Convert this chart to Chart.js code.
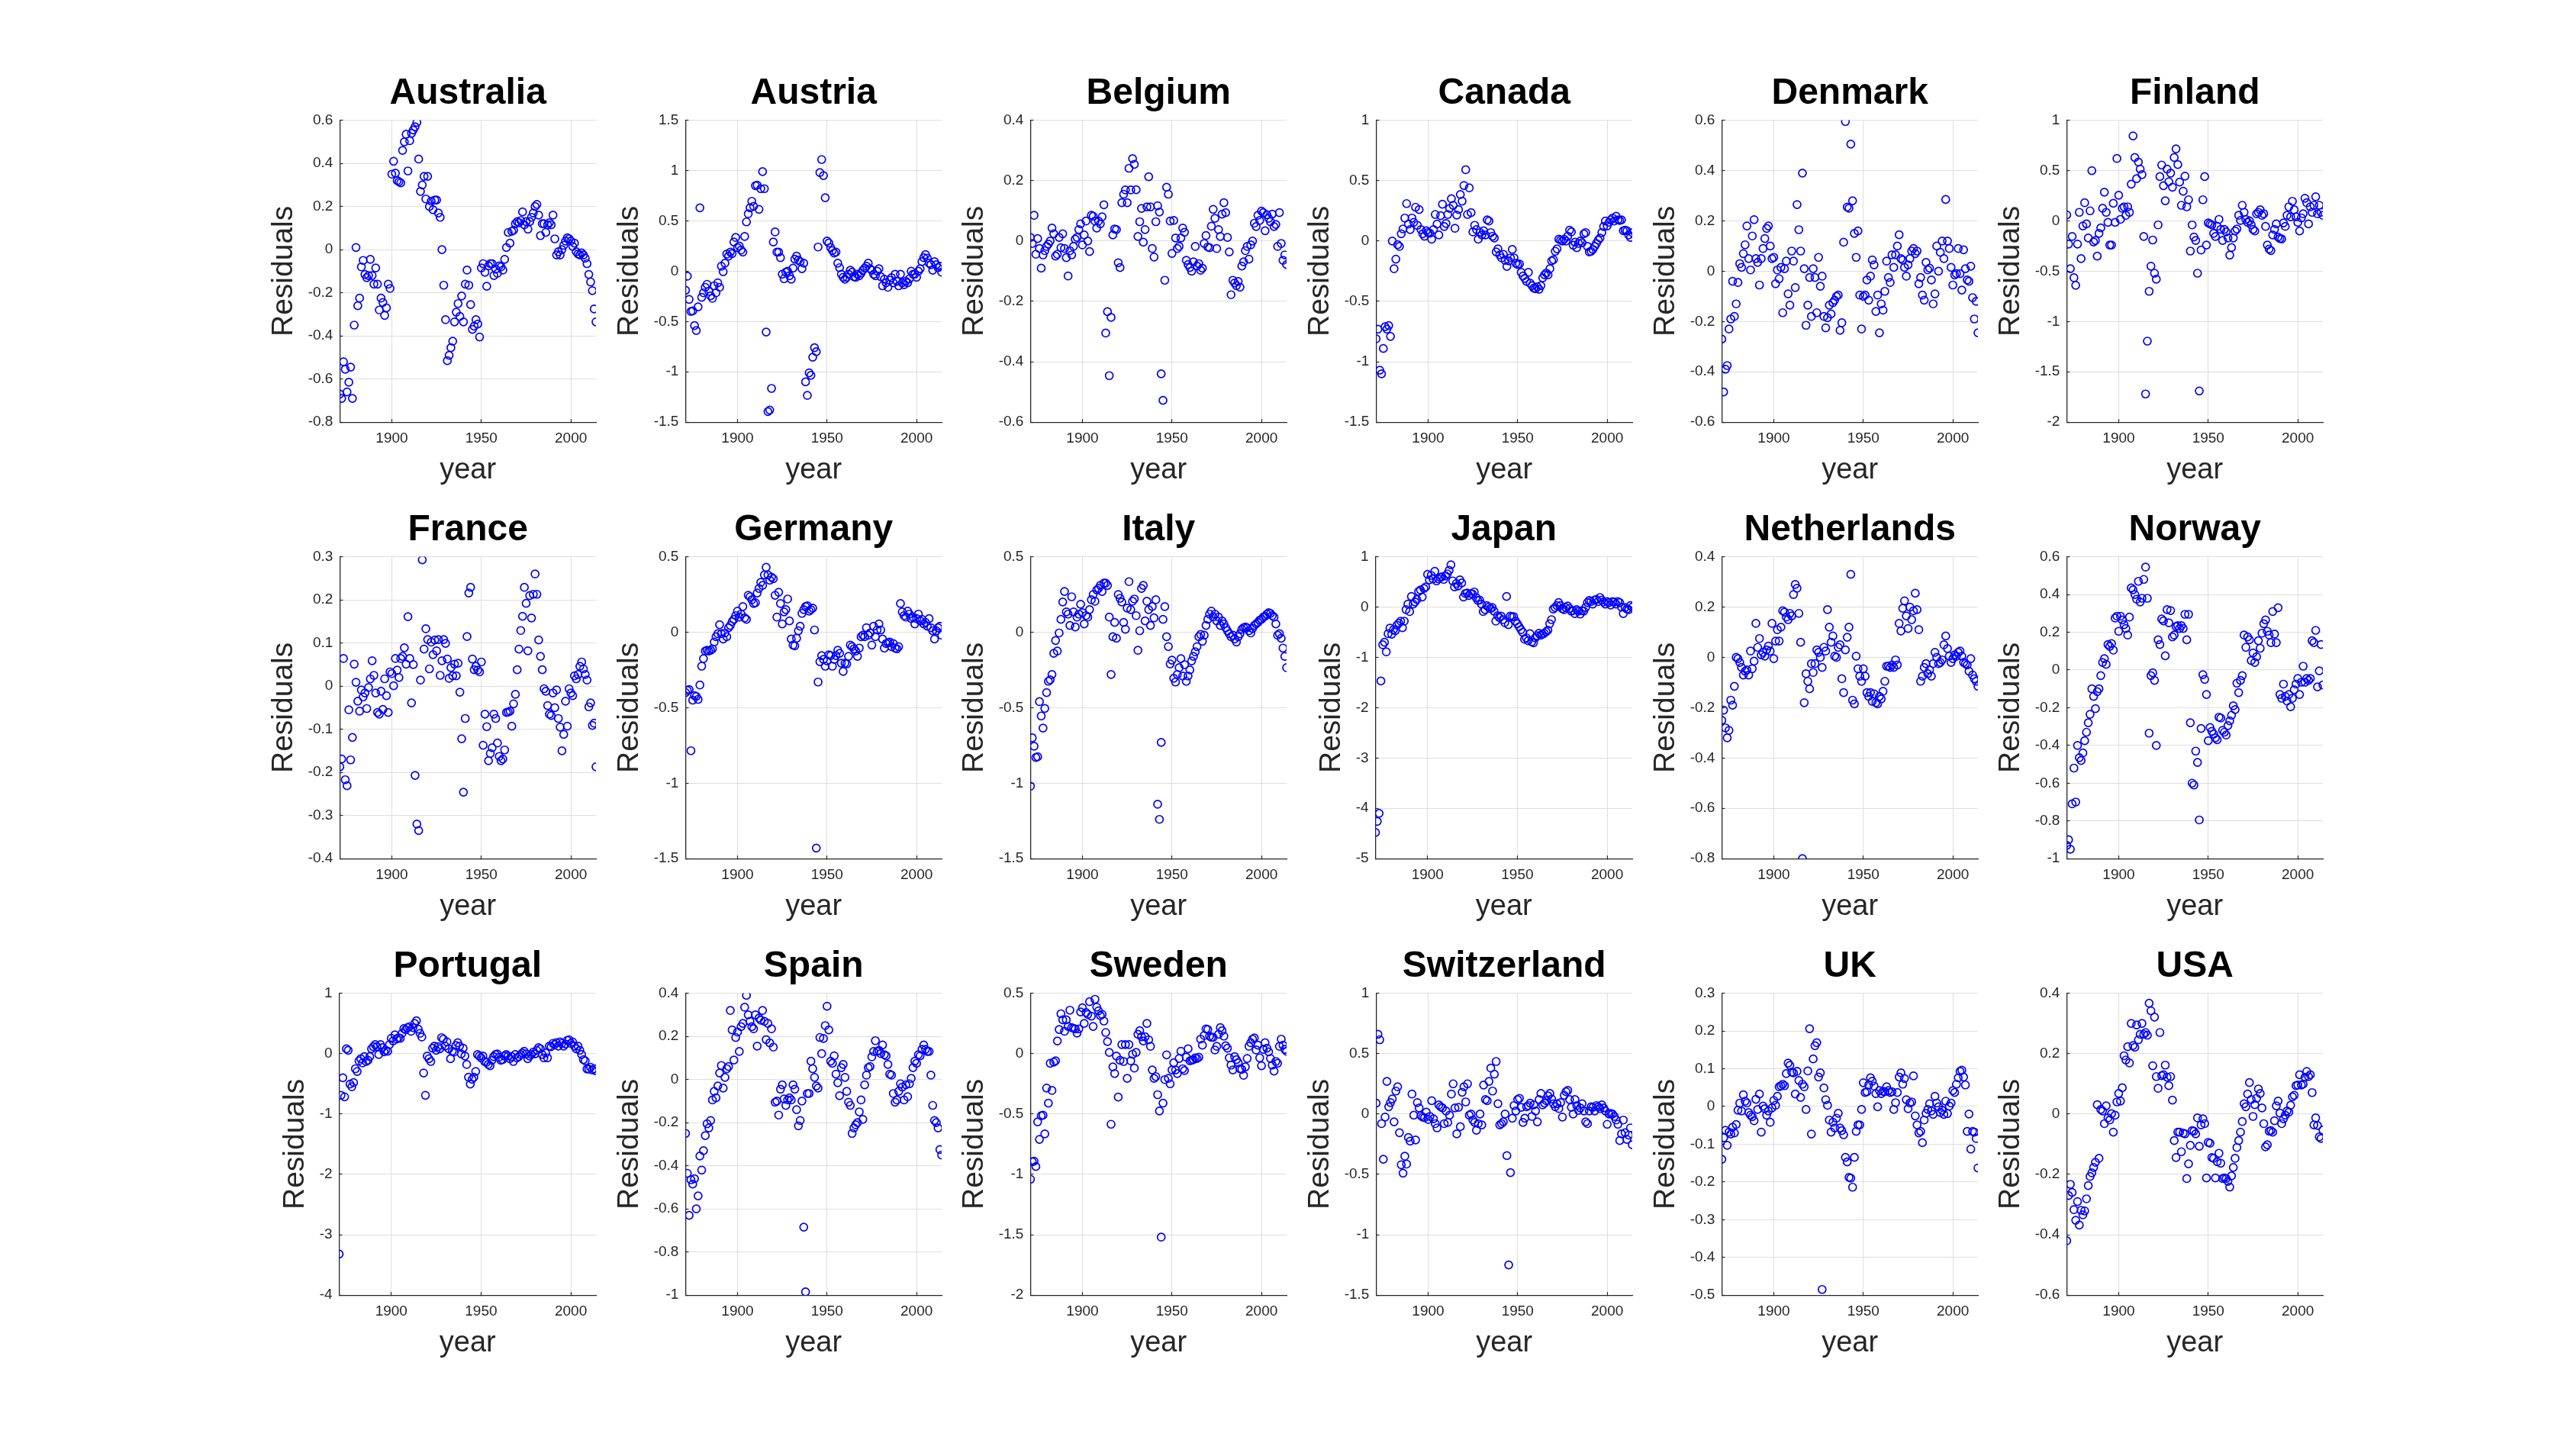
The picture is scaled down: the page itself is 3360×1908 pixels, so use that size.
<!DOCTYPE html>
<html>
<head>
<meta charset="utf-8">
<title>Residuals by country</title>
<script src="https://cdn.jsdelivr.net/npm/chart.js@4.4.1/dist/chart.umd.min.js"></script>
<style>
  html, body { margin: 0; padding: 0; background: #ffffff; }
  body { width: 3360px; height: 1908px; position: relative; overflow: hidden; }
  .panel { position: absolute; }
</style>
</head>
<body>
<script>
// x axis: one point per year, first year at index 0
const firstYear = 1871;
const lastYear = 2014;
const xTickYears = [1900, 1950, 2000];

const countries = ["Australia", "Austria", "Belgium", "Canada", "Denmark", "Finland",
  "France", "Germany", "Italy", "Japan", "Netherlands", "Norway",
  "Portugal", "Spain", "Sweden", "Switzerland", "UK", "USA"];

// residuals, 1871..2014
const australia = [-0.67,-0.69,-0.52,-0.555,-0.66,-0.615,-0.545,-0.69,-0.35,0.01,
  -0.26,-0.225,-0.08,-0.05,-0.115,-0.13,-0.12,-0.045,-0.12,-0.16,
  -0.085,-0.16,-0.28,-0.225,-0.245,-0.305,-0.27,-0.16,-0.18,0.35,
  0.41,0.355,0.32,0.315,0.31,0.46,0.50,0.535,0.365,0.505,
  0.54,0.555,0.57,0.59,0.42,0.27,0.30,0.34,0.235,0.34,
  0.20,0.225,0.185,0.23,0.23,0.17,0.15,0.0,-0.165,-0.325,
  -0.515,-0.49,-0.455,-0.425,-0.335,-0.29,-0.25,-0.31,-0.215,-0.335,
  -0.16,-0.095,-0.165,-0.255,-0.37,-0.355,-0.325,-0.345,-0.405,-0.085,
  -0.065,-0.105,-0.17,-0.075,-0.065,-0.065,-0.12,-0.09,-0.11,-0.075,
  -0.08,-0.095,-0.045,0.01,0.08,0.03,0.085,0.09,0.12,0.13,
  0.125,0.135,0.175,0.115,0.13,0.095,0.13,0.15,0.17,0.20,
  0.21,0.16,0.065,0.12,0.12,0.08,0.115,0.125,0.115,0.16,
  0.05,-0.025,-0.01,-0.025,0.0,0.02,0.04,0.055,0.05,0.04,
  0.015,0.03,-0.01,-0.02,-0.025,-0.015,-0.025,-0.04,-0.065,-0.115,
  -0.15,-0.19,-0.275,-0.335];

const austria = [-0.19,-0.05,-0.28,-0.40,-0.395,-0.54,-0.59,-0.355,0.63,
  -0.26,-0.215,-0.16,-0.13,-0.20,-0.245,-0.27,-0.145,-0.215,
  -0.115,-0.16,0.05,-0.005,0.08,0.17,0.15,0.19,0.175,0.29,
  0.335,0.235,0.25,0.21,0.19,0.345,0.49,0.57,0.63,0.695,
  0.645,0.85,0.855,0.615,0.82,0.99,0.82,-0.605,-1.395,-1.38,
  -1.165,0.29,0.39,0.19,0.19,0.135,-0.03,-0.075,-0.01,0.0,
  -0.045,-0.08,0.03,0.12,0.15,0.11,0.095,0.025,0.08,-1.10,
  -1.235,-1.01,-1.035,-0.855,-0.76,-0.80,0.24,0.98,1.11,0.95,
  0.73,0.30,0.28,0.235,0.205,0.18,0.19,0.08,0.035,-0.03,
  -0.06,-0.08,-0.06,-0.03,0.01,-0.01,-0.055,-0.06,-0.03,-0.045,
  -0.02,0.01,0.03,0.05,0.08,0.025,0.01,-0.03,-0.045,0.0,
  0.025,-0.055,-0.145,-0.08,-0.115,-0.16,-0.09,-0.065,-0.115,-0.03,
  -0.10,-0.145,-0.03,-0.115,-0.135,-0.10,-0.115,-0.075,0.0,-0.03,
  -0.03,-0.06,0.0,0.025,0.095,0.135,0.165,0.13,0.08,0.065,
  0.01,0.095,0.065,0.035,0.05,-0.01];

const belgium = [0.012,-0.008,0.085,-0.044,0.008,-0.025,-0.09,-0.046,-0.032,-0.018,
  -0.01,0.0,0.043,0.024,-0.05,-0.044,0.012,-0.022,0.024,
  -0.025,-0.055,-0.116,-0.032,-0.046,-0.018,0.006,0.012,0.038,0.057,
  -0.013,0.02,0.066,0.0,-0.035,0.085,0.082,0.066,0.043,0.066,
  0.057,0.08,0.12,-0.305,-0.234,-0.446,-0.253,0.02,0.04,0.038,
  -0.072,-0.088,0.127,0.155,0.169,0.127,0.241,0.169,0.273,0.254,
  0.17,0.015,0.064,0.108,-0.004,0.038,0.113,0.213,0.113,-0.025,
  -0.053,0.064,0.117,0.096,-0.44,-0.528,-0.13,0.178,0.155,0.066,
  -0.041,0.068,0.01,-0.025,-0.018,0.01,0.043,0.029,-0.064,-0.078,
  -0.088,-0.10,-0.069,-0.018,-0.083,-0.075,-0.097,-0.09,-0.008,0.018,
  -0.02,-0.022,0.049,0.105,0.075,-0.025,0.038,0.015,0.089,0.127,
  0.094,0.012,-0.036,-0.178,-0.13,-0.139,-0.148,-0.134,-0.153,-0.083,
  -0.069,-0.032,-0.018,-0.06,-0.013,0.0,0.059,0.048,0.085,0.068,
  0.099,0.094,0.034,0.087,0.075,0.064,0.089,0.048,0.055,-0.018,
  0.094,-0.008,-0.064,-0.046,-0.078];

const canada = [-0.81,-0.73,-1.07,-1.10,-0.89,-0.71,-0.73,-0.70,-0.79,0.0,
  -0.23,-0.15,-0.03,-0.045,0.06,0.10,0.19,0.31,0.14,0.095,
  0.19,0.155,0.28,0.13,0.26,0.095,0.06,0.04,0.085,0.07,
  0.065,0.015,0.095,0.22,0.14,0.05,0.21,0.305,0.12,0.145,
  0.22,0.27,0.35,0.295,0.105,0.215,0.26,0.385,0.33,0.46,
  0.59,0.22,0.44,0.235,0.075,0.13,0.095,0.015,0.07,0.05,
  0.085,0.05,0.175,0.165,0.07,0.04,0.025,-0.09,-0.065,-0.115,
  -0.14,-0.11,-0.16,-0.21,-0.165,-0.14,-0.07,-0.14,-0.185,-0.195,
  -0.19,-0.26,-0.29,-0.31,-0.335,-0.26,-0.35,-0.37,-0.39,-0.395,
  -0.38,-0.40,-0.37,-0.305,-0.28,-0.265,-0.28,-0.23,-0.165,-0.155,
  -0.085,-0.065,0.015,0.007,0.0,0.015,0.0,0.04,0.09,0.075,
  -0.035,-0.01,-0.055,-0.02,0.0,-0.015,0.06,0.07,-0.045,
  -0.09,-0.085,-0.07,-0.045,-0.02,0.007,0.025,0.07,0.12,0.165,
  0.125,0.155,0.175,0.19,0.165,0.205,0.175,0.17,0.175,0.085,
  0.09,0.085,0.05,0.03,0.07];

const denmark = [-0.27,-0.48,-0.39,-0.375,-0.23,-0.19,-0.04,-0.18,-0.13,-0.045,
  0.03,0.015,0.07,0.105,0.18,0.05,0.005,0.14,0.205,
  0.05,0.035,-0.055,0.05,0.09,0.13,0.17,0.18,0.10,
  0.05,0.055,-0.05,0.005,-0.03,0.015,-0.165,0.01,0.04,-0.09,
  -0.135,0.08,0.04,-0.065,0.265,0.165,0.08,0.39,0.01,-0.215,
  -0.135,-0.025,-0.18,0.01,-0.025,-0.165,0.055,-0.06,-0.02,-0.18,
  -0.225,-0.185,-0.135,-0.17,-0.125,-0.115,-0.10,-0.095,-0.235,-0.205,
  0.115,0.595,0.255,0.25,0.505,0.28,0.15,0.055,0.16,-0.095,
  -0.23,-0.10,-0.095,-0.035,-0.115,-0.02,0.045,0.025,-0.16,-0.095,
  -0.245,-0.13,-0.155,-0.08,0.04,-0.025,-0.045,0.065,0.015,0.065,
  0.10,0.145,0.05,0.045,0.015,-0.02,0.025,0.05,0.08,0.09,
  0.07,0.08,-0.05,-0.025,-0.095,-0.115,0.035,0.005,0.012,-0.035,
  -0.13,-0.09,0.10,0.0,0.075,0.12,0.05,0.285,0.12,0.09,
  0.015,-0.055,-0.015,-0.01,0.09,-0.01,-0.075,0.085,0.01,-0.035,
  -0.04,0.02,-0.105,-0.19,-0.12,-0.245];

const finland = [0.06,-0.23,-0.475,-0.155,-0.565,-0.64,-0.23,0.085,-0.375,-0.05,
  0.18,-0.03,-0.17,0.10,0.50,-0.21,-0.195,-0.35,-0.125,-0.07,
  0.125,0.285,0.085,-0.015,-0.24,-0.24,0.175,-0.015,0.62,0.255,
  0.015,0.125,0.14,0.055,0.14,0.085,0.365,0.845,0.63,0.42,
  0.585,0.515,0.46,-0.155,-1.72,-1.195,-0.70,-0.45,-0.19,-0.52,
  -0.58,-0.04,0.44,0.555,0.35,0.20,0.515,0.39,0.475,0.335,
  0.63,0.715,0.56,0.385,0.155,0.295,0.445,0.14,0.21,-0.30,
  -0.04,-0.16,-0.195,-0.52,-1.69,-0.29,0.21,0.44,-0.24,-0.02,
  -0.03,-0.04,-0.125,-0.155,-0.055,0.015,-0.085,-0.195,-0.085,-0.11,
  -0.17,-0.34,-0.265,-0.17,-0.10,-0.08,0.055,0.005,0.155,0.085,
  0.015,-0.015,0.0,-0.04,-0.085,-0.10,0.07,0.085,0.11,0.055,
  0.07,-0.055,-0.24,-0.28,-0.295,-0.14,-0.085,-0.03,-0.16,-0.175,
  -0.18,-0.02,-0.055,0.055,0.14,0.04,0.195,0.11,0.04,-0.015,
  -0.10,0.03,0.07,0.225,0.18,-0.03,0.14,0.085,0.155,
  0.24,0.07,0.155,0.085,0.055];

const france = [-0.187,-0.169,0.064,-0.217,-0.231,-0.055,-0.171,-0.119,0.051,0.009,
  -0.035,-0.058,-0.009,-0.025,-0.016,-0.052,-0.003,0.017,0.059,
  0.025,-0.016,-0.061,-0.065,-0.012,-0.054,0.017,-0.022,-0.061,0.033,
  0.029,0.001,0.064,0.037,0.02,0.064,0.069,0.089,0.051,0.161,
  0.064,-0.039,0.05,-0.207,-0.32,-0.335,0.014,0.293,0.086,0.133,
  0.108,0.04,0.102,0.073,0.107,0.082,0.108,0.025,0.059,0.108,
  0.099,0.063,0.018,0.043,0.024,0.051,0.024,0.053,-0.014,-0.122,
  -0.246,-0.075,0.115,0.216,0.229,0.063,0.038,0.046,0.037,0.033,
  0.056,-0.137,-0.065,-0.094,-0.173,-0.156,-0.143,-0.065,-0.075,-0.132,
  -0.163,-0.173,-0.169,-0.148,-0.061,-0.06,-0.058,-0.093,-0.041,-0.019,
  0.038,0.086,0.129,0.162,0.229,0.192,0.082,0.21,0.158,0.213,
  0.26,0.213,0.107,0.069,0.038,-0.006,-0.012,-0.045,-0.065,-0.068,
  -0.016,-0.05,-0.009,-0.075,-0.095,-0.15,-0.112,-0.035,-0.093,-0.006,
  -0.016,-0.022,0.024,0.017,0.027,0.046,0.056,0.04,0.027,0.014,
  -0.048,-0.039,-0.091,-0.086,-0.187];

const germany = [-0.40,-0.385,-0.38,-0.785,-0.45,-0.42,-0.425,-0.445,-0.35,-0.225,
  -0.175,-0.125,-0.12,-0.125,-0.12,-0.11,-0.065,-0.03,-0.01,
  0.05,-0.01,-0.045,-0.005,-0.03,0.03,0.045,0.07,0.085,
  0.11,0.14,0.10,0.12,0.17,0.095,0.085,0.245,0.235,0.215,
  0.19,0.195,0.26,0.29,0.33,0.31,0.38,0.43,0.38,0.345,
  0.365,0.355,0.245,0.10,0.265,0.19,0.055,0.135,0.15,0.22,
  0.075,-0.045,-0.085,-0.09,-0.04,0.01,0.04,0.125,0.15,0.17,
  0.175,0.14,0.15,0.16,0.015,-1.43,-0.33,-0.195,-0.155,-0.18,
  -0.225,-0.19,-0.15,-0.155,-0.225,-0.18,-0.155,-0.12,-0.14,-0.205,
  -0.26,-0.205,-0.21,-0.16,-0.085,-0.095,-0.11,-0.125,-0.16,-0.105,
  -0.03,-0.02,-0.03,0.03,-0.02,-0.005,-0.085,0.04,-0.03,0.015,
  0.055,0.015,-0.045,-0.105,-0.075,-0.07,-0.065,-0.095,-0.075,-0.105,
  -0.11,-0.095,0.19,0.135,0.11,0.10,0.14,0.12,0.09,0.10,
  0.055,0.09,0.12,0.075,0.085,0.055,0.065,0.04,0.09,0.03,
  0.01,-0.045,0.01,0.03,0.04,-0.02];

const italy = [-1.02,-0.70,-0.755,-0.83,-0.825,-0.46,-0.555,-0.635,-0.505,-0.40,
  -0.325,-0.315,-0.28,-0.14,-0.055,-0.125,-0.005,0.085,0.20,0.27,
  0.135,0.12,0.045,0.235,0.135,0.035,0.10,0.12,0.185,0.13,
  0.055,0.11,0.10,0.15,0.215,0.25,0.205,0.28,0.29,
  0.31,0.27,0.325,0.325,0.31,0.10,-0.28,-0.03,0.065,-0.04,
  0.25,0.225,0.20,0.065,0.02,0.16,0.335,0.15,0.205,0.22,
  0.11,-0.12,0.01,0.29,0.31,0.075,0.205,0.15,0.045,0.17,
  0.095,0.215,-1.14,-1.24,-0.73,0.085,0.17,-0.03,-0.095,-0.21,
  -0.185,-0.305,-0.33,-0.28,-0.235,-0.175,-0.29,-0.215,-0.325,-0.29,
  -0.25,-0.19,-0.16,-0.13,-0.095,-0.03,-0.015,-0.06,-0.02,0.045,
  0.085,0.12,0.14,0.10,0.12,0.075,0.10,0.045,0.075,0.055,
  0.03,0.01,-0.01,-0.03,-0.02,-0.045,-0.065,-0.03,-0.01,0.02,
  0.03,0.035,0.03,0.01,-0.005,0.025,0.045,0.055,0.065,0.08,
  0.085,0.10,0.105,0.12,0.13,0.125,0.11,0.10,0.055,-0.02,
  -0.01,-0.04,-0.105,-0.16,-0.235];

const japan = [-4.48,-4.26,-4.10,-1.47,-0.75,-0.70,-0.89,-0.53,-0.42,-0.54,
  -0.45,-0.47,-0.36,-0.32,-0.28,-0.41,-0.28,-0.05,0.06,-0.09,
  0.21,0.06,0.10,0.15,0.31,0.34,0.20,0.37,0.40,
  0.65,0.54,0.63,0.56,0.71,0.52,0.56,0.59,0.60,0.55,
  0.62,0.66,0.73,0.84,0.52,0.40,0.47,0.42,0.54,0.48,
  0.20,0.27,0.28,0.23,0.27,0.26,0.30,0.19,0.13,0.14,
  0.06,-0.09,-0.05,0.03,0.0,-0.03,-0.01,-0.08,-0.28,-0.17,
  -0.21,-0.18,-0.25,-0.31,0.21,-0.35,-0.18,-0.19,-0.19,-0.28,
  -0.33,-0.39,-0.45,-0.50,-0.64,-0.61,-0.67,-0.53,-0.69,-0.71,
  -0.61,-0.57,-0.52,-0.56,-0.54,-0.52,-0.49,-0.46,-0.33,-0.25,
  -0.04,-0.01,0.03,0.09,0.03,-0.03,-0.05,-0.01,0.02,-0.03,
  -0.08,-0.07,-0.13,-0.05,-0.08,-0.14,-0.07,-0.08,-0.01,0.09,
  0.13,0.11,0.06,0.14,0.15,0.11,0.19,0.14,0.10,0.06,
  0.11,0.09,0.04,0.11,0.10,0.06,0.11,0.09,0.0,-0.13,
  -0.01,-0.04,-0.05,0.03,0.0];

const netherlands = [-0.25,-0.21,-0.28,-0.32,-0.29,-0.17,-0.19,-0.115,0.0,-0.005,
  -0.02,-0.04,-0.07,-0.055,-0.05,-0.07,0.025,-0.045,-0.015,
  0.135,0.04,0.075,0.01,0.02,0.005,0.03,0.045,0.025,
  0.135,-0.005,0.065,0.11,0.065,0.12,0.185,0.18,0.16,0.15,
  0.175,0.165,0.25,0.29,0.275,0.175,0.06,-0.80,-0.18,-0.065,
  -0.095,-0.125,-0.025,-0.06,-0.025,0.03,0.02,0.0,-0.04,0.04,
  0.025,0.19,0.12,0.06,0.085,0.005,0.0,0.04,0.05,-0.085,
  -0.14,0.03,0.08,0.12,0.33,-0.17,-0.185,0.005,-0.045,-0.075,
  -0.095,-0.045,-0.075,-0.14,-0.155,-0.14,-0.175,-0.145,-0.18,-0.185,
  -0.155,-0.165,-0.135,-0.095,-0.035,-0.035,-0.04,-0.03,-0.04,-0.01,
  -0.03,0.135,0.105,0.195,0.225,0.165,0.115,0.20,0.15,0.185,
  0.255,0.19,0.11,-0.095,-0.075,-0.04,-0.025,-0.065,-0.05,-0.075,
  -0.025,0.02,0.0,-0.025,-0.02,-0.01,0.05,0.085,0.035,0.005,
  -0.02,-0.005,0.01,0.005,0.02,0.025,0.005,-0.02,-0.025,-0.03,
  -0.055,-0.005,-0.07,-0.085,-0.095,-0.115];

const norway = [-0.93,-0.90,-0.95,-0.71,-0.52,-0.70,-0.40,-0.465,-0.48,-0.44,
  -0.375,-0.33,-0.28,-0.235,-0.10,-0.14,-0.205,-0.115,-0.10,-0.03,
  0.04,0.06,0.03,0.135,0.125,0.14,0.105,0.275,0.285,
  0.205,0.285,0.265,0.24,0.22,0.185,0.28,0.435,0.425,0.40,
  0.375,0.47,0.36,0.38,0.48,0.545,0.38,-0.335,-0.03,-0.015,
  -0.055,-0.40,0.16,0.135,0.27,0.26,0.075,0.32,0.25,0.315,
  0.175,0.185,0.23,0.235,0.22,0.235,0.22,0.295,0.16,0.295,
  -0.28,-0.60,-0.61,-0.43,-0.49,-0.795,-0.31,-0.025,-0.05,-0.13,
  -0.375,-0.305,-0.325,-0.34,-0.36,-0.37,-0.25,-0.255,-0.32,-0.33,
  -0.345,-0.295,-0.27,-0.24,-0.19,-0.21,-0.07,-0.12,-0.055,-0.03,
  0.185,0.12,0.175,0.16,0.05,0.09,0.04,0.07,0.155,0.115,
  0.195,0.245,0.265,0.205,0.185,0.145,0.31,0.19,0.145,0.33,
  -0.13,-0.15,-0.075,-0.14,-0.165,-0.13,-0.195,-0.15,-0.105,-0.075,
  -0.045,-0.13,-0.065,0.02,-0.065,-0.045,-0.055,-0.045,0.155,
  0.145,0.21,-0.09,-0.005,0.135,-0.08];

const portugal = [-3.32,-0.69,-0.40,-0.715,0.08,0.055,-0.505,-0.55,-0.48,-0.25,
  -0.295,-0.12,-0.085,-0.155,-0.05,-0.13,-0.11,-0.05,0.08,0.115,
  0.15,0.115,-0.015,0.15,0.10,0.03,0.055,0.04,0.15,0.255,
  0.21,0.31,0.24,0.265,0.255,0.335,0.415,0.395,0.43,0.445,
  0.37,0.43,0.50,0.545,0.405,0.335,0.275,-0.32,-0.69,-0.04,
  -0.085,-0.13,0.09,0.125,0.055,0.115,0.08,0.265,0.24,0.125,
  0.195,0.08,-0.085,0.04,0.025,0.135,0.18,0.125,-0.005,0.09,
  -0.04,-0.18,-0.39,-0.505,-0.425,-0.39,-0.295,-0.015,-0.04,-0.07,
  -0.04,-0.13,-0.145,-0.18,-0.20,-0.11,-0.05,-0.015,-0.005,-0.06,
  -0.11,-0.10,-0.04,-0.015,-0.04,-0.085,-0.05,-0.13,-0.015,
  -0.07,-0.05,-0.015,0.01,0.04,-0.005,-0.085,-0.04,-0.015,
  0.025,-0.005,0.055,0.10,0.08,-0.015,-0.07,0.01,-0.07,0.125,
  0.115,0.17,0.15,0.18,0.125,0.195,0.17,0.125,0.16,0.22,
  0.23,0.17,0.195,0.125,0.08,0.125,0.055,-0.015,-0.10,-0.12,
  -0.255,-0.255,-0.225,-0.27,-0.25,-0.285];

const spain = [-0.25,-0.435,-0.63,-0.465,-0.485,-0.46,-0.60,-0.54,-0.355,-0.42,
  -0.33,-0.26,-0.205,-0.225,-0.19,-0.095,-0.055,-0.085,-0.03,0.03,
  0.065,-0.04,0.01,0.05,0.06,0.32,0.23,0.09,0.195,0.22,
  0.13,0.245,0.26,0.335,0.39,0.30,0.27,0.245,0.235,0.30,
  0.155,0.285,0.275,0.32,0.27,0.185,0.26,0.17,0.235,0.15,
  -0.105,-0.10,-0.165,-0.045,-0.025,-0.09,-0.12,-0.095,-0.085,-0.095,
  -0.025,-0.045,-0.14,-0.215,-0.19,-0.10,-0.685,-0.985,-0.065,-0.065,
  0.085,0.05,0.01,-0.03,-0.04,0.195,0.12,0.19,0.25,0.34,
  0.23,0.085,0.075,0.11,0.025,-0.015,-0.075,0.055,0.07,0.01,
  -0.055,-0.105,-0.12,-0.25,-0.225,-0.21,-0.20,-0.15,-0.095,-0.185,
  -0.025,0.02,0.055,0.06,0.105,0.13,0.18,0.13,0.135,0.12,
  0.16,0.115,0.11,0.07,0.025,0.02,-0.065,-0.105,-0.095,
  -0.055,-0.02,-0.035,-0.095,-0.025,-0.08,-0.02,0.005,0.055,
  0.085,0.075,0.115,0.11,0.14,0.16,0.14,0.13,0.13,0.02,
  -0.12,-0.19,-0.20,-0.225,-0.325,-0.35];

const sweden = [-1.04,-0.895,-0.89,-0.935,-0.565,-0.71,-0.515,-0.51,-0.665,-0.285,
  -0.41,-0.08,-0.305,-0.07,-0.06,0.105,0.20,0.33,0.28,
  0.185,0.28,0.225,0.36,0.215,0.21,0.205,0.17,0.205,0.345,
  0.38,0.25,0.34,0.325,0.43,0.31,0.225,0.45,0.385,0.355,
  0.315,0.325,0.27,0.175,0.10,0.01,-0.585,-0.11,-0.165,-0.02,
  -0.36,-0.055,0.075,-0.065,0.075,-0.205,0.075,-0.06,-0.005,-0.12,
  0.01,0.16,0.19,0.14,0.105,0.14,0.25,0.115,0.06,-0.135,
  -0.205,-0.19,-0.34,-0.475,-1.52,-0.41,-0.215,-0.01,-0.205,-0.25,
  -0.135,-0.075,-0.135,-0.165,-0.04,0.02,-0.125,-0.14,-0.03,0.04,
  -0.06,-0.055,-0.05,-0.035,-0.04,-0.03,0.12,0.07,0.15,0.205,
  0.20,0.145,0.135,0.135,0.03,0.06,0.16,0.215,0.19,0.145,
  0.065,0.045,-0.035,-0.095,-0.135,-0.025,-0.05,-0.075,-0.125,-0.13,
  -0.18,-0.11,-0.04,0.06,0.09,0.12,0.13,0.03,0.07,-0.035,
  -0.10,0.035,0.09,0.045,0.015,-0.04,-0.095,-0.145,-0.065,-0.08,
  0.06,0.12,0.07,0.035,0.02];

const switzerland = [0.09,0.66,0.615,-0.08,-0.375,-0.025,0.27,0.06,0.095,0.125,
  -0.065,0.19,0.225,-0.155,-0.42,-0.49,-0.35,-0.415,-0.195,-0.225,
  0.165,-0.01,-0.215,0.095,0.05,-0.015,-0.025,-0.03,0.015,
  -0.045,-0.02,0.11,-0.04,-0.08,-0.115,0.075,0.06,0.05,-0.08,
  0.025,-0.07,-0.01,0.165,0.25,0.05,-0.165,0.055,-0.105,0.18,
  0.225,0.10,0.25,-0.01,0.0,-0.05,-0.07,-0.135,-0.08,0.0,
  -0.09,0.24,0.12,0.11,0.27,0.38,0.19,0.33,0.435,0.085,
  -0.09,-0.08,-0.065,0.0,-0.345,-1.25,-0.485,-0.035,0.07,0.025,
  0.12,0.13,0.055,-0.07,-0.035,0.06,0.07,0.09,-0.02,0.075,
  0.025,-0.065,0.12,0.17,0.075,0.09,0.11,0.15,0.17,0.125,
  0.085,0.06,0.085,0.045,0.095,-0.025,0.155,0.185,0.195,0.12,
  0.055,0.0,0.12,0.07,0.03,0.05,0.085,0.025,-0.065,
  -0.08,0.025,0.06,0.055,0.025,0.07,0.06,0.045,0.075,0.05,
  0.025,-0.085,0.0,0.005,0.0,-0.02,-0.05,-0.085,-0.22,-0.165,
  -0.05,-0.155,-0.21,-0.175,-0.115,-0.255];

const uk = [-0.14,-0.083,-0.063,-0.103,-0.068,-0.073,-0.055,-0.07,-0.048,-0.01,
  0.009,-0.012,0.031,0.014,0.009,-0.016,-0.023,-0.027,-0.038,0.019,
  -0.008,0.033,-0.068,0.001,-0.006,-0.023,-0.012,-0.042,-0.004,0.016,
  0.003,0.027,0.052,0.055,0.059,0.055,0.087,0.115,0.109,0.091,
  0.089,0.033,0.093,0.069,0.024,0.059,0.052,-0.008,0.094,0.206,
  -0.073,0.126,0.161,0.169,0.078,0.089,-0.485,0.049,0.018,0.003,
  -0.036,-0.068,-0.042,-0.057,-0.031,-0.018,-0.057,-0.064,-0.075,-0.135,
  -0.147,-0.188,-0.19,-0.214,-0.135,-0.066,-0.049,-0.049,-0.008,0.063,
  0.037,0.039,0.057,0.076,0.067,0.054,0.034,-0.001,0.042,0.034,
  0.04,0.039,0.052,0.042,0.037,0.039,-0.008,0.01,0.037,0.078,
  0.089,0.059,0.074,0.018,-0.006,0.009,0.012,0.081,-0.025,-0.049,
  -0.07,-0.066,-0.096,-0.036,-0.018,-0.008,0.007,-0.012,-0.021,0.027,
  0.009,-0.001,-0.016,-0.01,-0.021,0.014,-0.019,0.001,0.009,0.042,
  0.037,0.059,0.076,0.093,0.096,0.078,0.057,-0.066,-0.02,-0.113,
  -0.066,-0.068,-0.085,-0.163];

const usa = [-0.42,-0.27,-0.233,-0.26,-0.317,-0.352,-0.29,-0.368,-0.319,-0.334,
  -0.321,-0.281,-0.237,-0.207,-0.195,-0.177,-0.16,0.031,-0.147,0.015,
  0.01,-0.032,0.027,-0.013,-0.02,0.001,-0.06,-0.004,0.04,0.068,
  0.043,0.087,0.193,0.179,0.223,0.169,0.3,0.227,0.221,0.295,
  0.246,0.264,0.3,0.264,0.27,0.261,0.367,0.342,0.16,0.321,
  0.124,0.085,0.27,0.127,0.13,0.162,0.122,0.094,0.124,0.046,
  -0.088,-0.144,-0.06,-0.06,-0.125,-0.063,-0.066,-0.214,-0.165,-0.104,
  -0.055,-0.057,-0.066,-0.013,-0.107,-0.036,-0.016,-0.032,-0.212,-0.094,
  -0.097,-0.144,-0.147,-0.212,-0.158,-0.13,-0.163,-0.214,-0.212,-0.214,
  -0.223,-0.242,-0.205,-0.177,-0.147,-0.111,-0.088,-0.06,-0.025,0.034,
  0.024,0.066,0.104,0.048,-0.008,0.031,0.052,0.083,0.068,0.02,
  -0.032,-0.109,-0.102,-0.057,-0.055,-0.06,-0.022,0.027,0.043,0.003,
  -0.032,-0.016,-0.004,0.01,0.006,0.029,0.057,0.062,0.094,0.096,
  0.13,0.096,0.099,0.122,0.141,0.124,0.13,0.071,-0.036,-0.013,
  -0.038,-0.076,-0.081,-0.053];

// y tick labels of each panel (first = bottom of the axis, last = top)
const australiaTicks = [-0.8, -0.6, -0.4, -0.2, 0, 0.2, 0.4, 0.6];
const austriaTicks = [-1.5, -1, -0.5, 0, 0.5, 1, 1.5];
const belgiumTicks = [-0.6, -0.4, -0.2, 0, 0.2, 0.4];
const canadaTicks = [-1.5, -1, -0.5, 0, 0.5, 1];
const denmarkTicks = [-0.6, -0.4, -0.2, 0, 0.2, 0.4, 0.6];
const finlandTicks = [-2, -1.5, -1, -0.5, 0, 0.5, 1];
const franceTicks = [-0.4, -0.3, -0.2, -0.1, 0, 0.1, 0.2, 0.3];
const germanyTicks = [-1.5, -1, -0.5, 0, 0.5];
const italyTicks = [-1.5, -1, -0.5, 0, 0.5];
const japanTicks = [-5, -4, -3, -2, -1, 0, 1];
const netherlandsTicks = [-0.8, -0.6, -0.4, -0.2, 0, 0.2, 0.4];
const norwayTicks = [-1, -0.8, -0.6, -0.4, -0.2, 0, 0.2, 0.4, 0.6];
const portugalTicks = [-4, -3, -2, -1, 0, 1];
const spainTicks = [-1, -0.8, -0.6, -0.4, -0.2, 0, 0.2, 0.4];
const swedenTicks = [-2, -1.5, -1, -0.5, 0, 0.5];
const switzerlandTicks = [-1.5, -1, -0.5, 0, 0.5, 1];
const ukTicks = [-0.5, -0.4, -0.3, -0.2, -0.1, 0, 0.1, 0.2, 0.3];
const usaTicks = [-0.6, -0.4, -0.2, 0, 0.2, 0.4];

const seriesList = [australia, austria, belgium, canada, denmark, finland,
  france, germany, italy, japan, netherlands, norway,
  portugal, spain, sweden, switzerland, uk, usa];
const tickList = [australiaTicks, austriaTicks, belgiumTicks, canadaTicks, denmarkTicks, finlandTicks,
  franceTicks, germanyTicks, italyTicks, japanTicks, netherlandsTicks, norwayTicks,
  portugalTicks, spainTicks, swedenTicks, switzerlandTicks, ukTicks, usaTicks];

// page layout of the 3 x 6 grid of axes (plot area boxes)
const plotLefts = [445, 898, 1350, 1803, 2256, 2708];
const plotTops = [158, 730, 1302];
const plotW = 336;
const plotH = 396;

const textGrey = "#262626";
const innerTick = -4; // matlab style ticks point into the axes
Chart.defaults.font.family = "'Liberation Sans', Arial, Helvetica, sans-serif";
Chart.defaults.color = textGrey;

function makePanel(name, values, yTicks, col, row) {
  const box = document.createElement("div");
  box.className = "panel";
  const startW = 480, startH = 580;
  box.style.width = startW + "px";
  box.style.height = startH + "px";
  const canvas = document.createElement("canvas");
  box.appendChild(canvas);
  document.body.appendChild(box);

  const points = values.map(function (v, k) {
    return { x: firstYear + k, y: v };
  });

  const chart = new Chart(canvas.getContext("2d"), {
    type: "scatter",
    data: {
      datasets: [{
        data: points,
        pointStyle: "circle",
        pointRadius: 5,
        pointHoverRadius: 5,
        borderWidth: 1.7,
        borderColor: "#0000ff",
        backgroundColor: "rgba(0,0,0,0)",
      }],
    },
    options: {
      responsive: true,
      maintainAspectRatio: false,
      animation: false,
      events: [],
      // room round the axes so the shrunk title line boxes never clip glyphs
      layout: { padding: { top: 0, left: 10, right: 12, bottom: 24 } },
      plugins: {
        legend: { display: false },
        tooltip: { enabled: false },
        title: {
          display: true,
          text: name,
          fullSize: false,
          color: "#000000",
          font: { size: 48, weight: "bold" },
          padding: { top: 0, bottom: 6 },
        },
      },
      scales: {
        x: {
          type: "linear",
          min: firstYear,
          max: lastYear,
          afterBuildTicks: function (axis) {
            axis.ticks = xTickYears.map(function (v) { return { value: v }; });
          },
          ticks: {
            padding: 10 - innerTick,
            font: { size: 19 },
            color: textGrey,
            maxRotation: 0,
            callback: function (v) { return String(v); },
          },
          grid: {
            color: "#dedede", lineWidth: 1,
            drawTicks: true, tickLength: innerTick, tickColor: textGrey, tickWidth: 1.2,
          },
          border: { display: true, color: textGrey, width: 1.3 },
          title: {
            display: true,
            text: "year",
            color: textGrey,
            // small line box: the scale already reserves a second tick padding
            font: { size: 38, lineHeight: 0.58 },
            padding: { top: 6, bottom: 0 },
          },
        },
        y: {
          type: "linear",
          min: yTicks[0],
          max: yTicks[yTicks.length - 1],
          afterBuildTicks: function (axis) {
            axis.ticks = yTicks.map(function (v) { return { value: v }; });
          },
          ticks: {
            padding: 9 - innerTick,
            font: { size: 19 },
            color: textGrey,
            callback: function (v) { return String(v); },
          },
          grid: {
            color: "#dedede", lineWidth: 1,
            drawTicks: true, tickLength: innerTick, tickColor: textGrey, tickWidth: 1.2,
          },
          border: { display: true, color: textGrey, width: 1.3 },
          title: {
            display: true,
            text: "Residuals",
            color: textGrey,
            font: { size: 39, lineHeight: 0.94 },
            padding: { top: 0, bottom: 0 },
          },
        },
      },
    },
  });

  // size the canvas so the plot area matches, then place it on the page
  const a = chart.chartArea;
  box.style.width = Math.round(startW + plotW - (a.right - a.left)) + "px";
  box.style.height = Math.round(startH + plotH - (a.bottom - a.top)) + "px";
  chart.resize();
  const b = chart.chartArea;
  box.style.left = Math.round(plotLefts[col] - b.left) + "px";
  box.style.top = Math.round(plotTops[row] - b.top) + "px";
}

countries.forEach(function (name, i) {
  makePanel(name, seriesList[i], tickList[i], i % 6, Math.floor(i / 6));
});
</script>
</body>
</html>
